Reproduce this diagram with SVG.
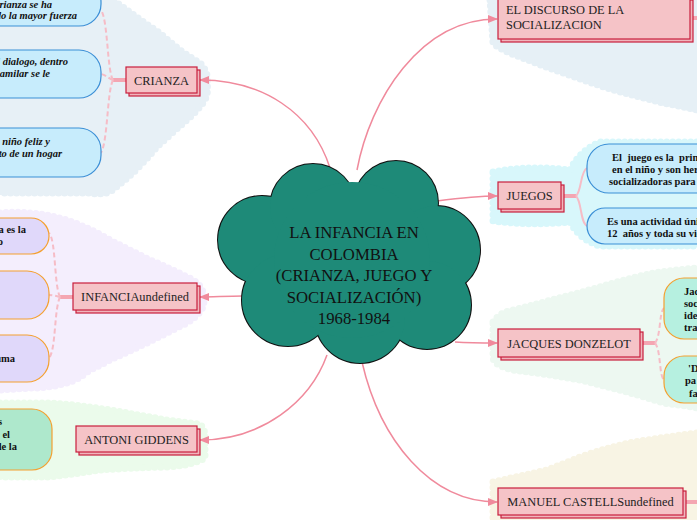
<svg xmlns="http://www.w3.org/2000/svg" width="697" height="520" viewBox="0 0 697 520">
<style>
.bg{stroke-width:7;stroke-linecap:round;stroke-dasharray:0 6}
.main rect.f{fill:#f5c3c7;stroke:#c81e3c;stroke-width:1.2}
.main rect.s{fill:#f0b5bc;stroke:#c81e3c;stroke-width:1.2}
.main text{font-family:"Liberation Serif",serif;font-size:12.4px;fill:#222}
.sub text{font-family:"Liberation Serif",serif;font-size:10.5px;font-weight:bold;fill:#111;white-space:pre}
.subi text{font-style:italic}
.blue{fill:#c7ecfc;stroke:#3b8fd6;stroke-width:1.2}
.lav{fill:#e0d8fa;stroke:#f4a030;stroke-width:1.2}
.mint{fill:#b6f0e0;stroke:#f4a030;stroke-width:1.2}
.grn{fill:#aee8cc;stroke:#f4a030;stroke-width:1.2}
.con{fill:none;stroke:#f08a9c;stroke-width:1.5}
.stub{fill:none;stroke:#f4a6b2;stroke-width:4}
.br{fill:none;stroke:#f6bcc6;stroke-width:2}
.dash{fill:none;stroke:#f6bcc6;stroke-width:2;stroke-dasharray:5 3}
</style>
<defs>
<marker id="arr" viewBox="0 0 10 10" refX="9" refY="5" markerWidth="7" markerHeight="7" orient="auto"><path d="M0,1 L10,5 L0,9 z" fill="#f08a9c"/></marker>
</defs>

<g id="backgrounds">
<path class="bg" fill="#e7f0f6" stroke="#e7f0f6" d="M0,0 L113,0 Q120,5 127,10 Q143,22 160,33 Q170,42 180,50 Q190,57 200,63 Q209,72 207,83 Q209,95 203,103 Q196,112 187,120 Q172,133 157,147 Q146,160 133,173 Q122,183 110,192 Q100,195 90,193 L0,193 Z"/>
<path class="bg" fill="#f4eefd" stroke="#f4eefd" d="M0,213 Q33,210 67,220 Q90,228 110,240 Q130,250 150,260 Q170,268 187,277 Q200,282 203,292 Q206,305 200,312 Q195,318 187,323 Q167,333 147,343 Q128,352 110,360 Q100,366 90,370 Q78,380 67,383 Q50,388 33,388 L0,390 Z"/>
<path class="bg" fill="#ebfbeb" stroke="#ebfbeb" d="M0,403 L50,403 Q80,405 110,410 Q140,415 167,420 Q190,423 200,424 Q206,430 205,440 L205,458 Q190,466 167,467 Q130,468 100,470 Q75,474 50,477 L0,477 Z"/>
<path class="bg" fill="#e6f0f6" stroke="#e6f0f6" d="M490,0 L697,0 L697,110 Q680,106 663,103 Q640,97 613,90 Q588,82 563,73 Q540,65 520,57 Q500,50 493,43 Z"/>
<path class="bg" fill="#d8f7fb" stroke="#d8f7fb" d="M493,172 Q530,165 570,170 Q580,150 600,142 L697,142 L697,246 L600,246 Q580,240 570,222 Q530,226 493,221 Z"/>
<path class="bg" fill="#edf8f1" stroke="#edf8f1" d="M493,322 Q500,312 513,310 Q540,303 563,297 Q590,290 613,283 Q635,277 653,273 Q675,270 697,268 L697,408 Q680,405 663,403 Q645,397 630,393 Q605,386 580,380 Q545,374 513,370 Q495,366 493,358 Z"/>
<path class="bg" fill="#f8f4e4" stroke="#f8f4e4" d="M493,482 Q520,476 547,470 Q565,463 580,457 Q597,451 613,447 Q630,442 647,440 Q672,436 697,433 L697,520 L493,520 Z"/>
</g>

<g id="connectors">
<path class="con" marker-end="url(#arr)" d="M330,168 C312,112 262,80 200,80"/>
<path class="con" marker-end="url(#arr)" d="M243,296 C226,296 214,297 200,297"/>
<path class="con" marker-end="url(#arr)" d="M327,355 C310,402 262,440 200,440"/>
<path class="con" marker-end="url(#arr)" d="M357,170 C370,100 420,19 497,19"/>
<path class="con" marker-end="url(#arr)" d="M437,201 C460,198 480,196 497,196"/>
<path class="con" marker-end="url(#arr)" d="M455,342 C470,343 484,343 497,343"/>
<path class="con" marker-end="url(#arr)" d="M362,362 C380,440 430,502 497,502"/>
<path class="stub" d="M126,80 L113,80"/>
<path class="dash" d="M113,80 C107,70 108,20 101,10"/>
<path class="dash" d="M113,80 C108,78 106,75 101,74"/>
<path class="dash" d="M113,80 C107,92 108,140 101,153"/>
<path class="stub" d="M73,297 L60,297"/>
<path class="dash" d="M60,297 C54,285 56,240 49,233"/>
<path class="dash" d="M60,297 C56,296 53,295 49,295"/>
<path class="dash" d="M60,297 C54,310 56,350 49,358"/>
<path class="stub" d="M561,196 L576,196"/>
<path class="br" d="M576,196 C582,190 580,172 587,168"/>
<path class="br" d="M576,196 C582,202 580,222 587,226"/>
<path class="stub" d="M640,343 L655,343"/>
<path class="dash" d="M655,343 C661,336 659,312 664,308"/>
<path class="dash" d="M655,343 C661,350 659,376 664,380"/>
<path class="stub" d="M690,18 L697,18"/>
<path class="stub" d="M683,502 L697,502"/>
</g>

<g id="center">
<g stroke="#111" stroke-width="2" fill="#1e8a78">
<circle cx="262" cy="240" r="44"/>
<circle cx="313" cy="207" r="43"/>
<circle cx="396" cy="203" r="42"/>
<circle cx="436" cy="250" r="44"/>
<circle cx="427" cy="305" r="44"/>
<circle cx="360" cy="318" r="45"/>
<circle cx="288" cy="300" r="46"/>
</g>
<g fill="#1e8a78">
<circle cx="262" cy="240" r="44"/>
<circle cx="313" cy="207" r="43"/>
<circle cx="396" cy="203" r="42"/>
<circle cx="436" cy="250" r="44"/>
<circle cx="427" cy="305" r="44"/>
<circle cx="360" cy="318" r="45"/>
<circle cx="288" cy="300" r="46"/>
<circle cx="352" cy="260" r="78"/>
</g>
<g font-family="Liberation Serif, serif" font-size="16.7" fill="#111" text-anchor="middle">
<text x="354" y="238">LA INFANCIA EN</text>
<text x="354" y="259.5">COLOMBIA</text>
<text x="354" y="281">(CRIANZA, JUEGO Y</text>
<text x="354" y="302.5">SOCIALIZACIÓN)</text>
<text x="354" y="324">1968-1984</text>
</g>
</g>

<g id="crianza" class="main">
<rect class="s" x="129" y="70" width="71" height="26"/>
<rect class="f" x="126" y="67" width="71" height="26"/>
<text x="161.5" y="84.5" text-anchor="middle">CRIANZA</text>
</g>
<g id="infancia" class="main">
<rect class="s" x="76" y="286" width="124" height="27"/>
<rect class="f" x="73" y="283" width="124" height="27"/>
<text x="135" y="301" text-anchor="middle">INFANCIAundefined</text>
</g>
<g id="giddens" class="main">
<rect class="s" x="79" y="429" width="121" height="26"/>
<rect class="f" x="76" y="426" width="121" height="26"/>
<text x="136.5" y="443.5" text-anchor="middle">ANTONI GIDDENS</text>
</g>
<g id="discurso" class="main">
<rect class="s" x="501" y="0" width="192" height="42"/>
<rect class="f" x="498" y="-3" width="192" height="42"/>
<text x="506" y="14">EL DISCURSO DE LA</text>
<text x="506" y="29">SOCIALIZACION</text>
</g>
<g id="juegos" class="main">
<rect class="s" x="501" y="185" width="63" height="27"/>
<rect class="f" x="498" y="182" width="63" height="27"/>
<text x="529.5" y="200" text-anchor="middle">JUEGOS</text>
</g>
<g id="donzelot" class="main">
<rect class="s" x="501" y="332" width="142" height="28"/>
<rect class="f" x="498" y="329" width="142" height="28"/>
<text x="569" y="347.5" text-anchor="middle">JACQUES DONZELOT</text>
</g>
<g id="castells" class="main">
<rect class="s" x="501" y="491" width="185" height="27"/>
<rect class="f" x="498" y="488" width="185" height="27"/>
<text x="590.5" y="506" text-anchor="middle">MANUEL CASTELLSundefined</text>
</g>

<g id="crianza-1" class="sub subi">
<rect class="blue" x="-60" y="-20" width="161" height="46" rx="22"/>
<text x="52" y="8" text-anchor="end">rianza se ha</text>
<text x="77" y="19" text-anchor="end">do la mayor fuerza</text>
</g>
<g id="crianza-2" class="sub subi">
<rect class="blue" x="-60" y="50" width="161" height="48" rx="22"/>
<text x="68" y="65" text-anchor="end">l dialogo, dentro</text>
<text x="50" y="77" text-anchor="end">amilar se le</text>
</g>
<g id="crianza-3" class="sub subi">
<rect class="blue" x="-60" y="128" width="161" height="49" rx="22"/>
<text x="50" y="145" text-anchor="end">o niño feliz y</text>
<text x="62" y="157" text-anchor="end">cto de un hogar</text>
</g>
<g id="infancia-1" class="sub">
<rect class="lav" x="-60" y="218" width="109" height="36" rx="18"/>
<text x="26" y="233" text-anchor="end">a es la</text>
<text x="3" y="245" text-anchor="end">o</text>
</g>
<g id="infancia-2" class="sub">
<rect class="lav" x="-60" y="271" width="109" height="48" rx="22"/>
</g>
<g id="infancia-3" class="sub">
<rect class="lav" x="-60" y="335" width="109" height="47" rx="22"/>
<text x="15" y="362" text-anchor="end">uma</text>
</g>
<g id="giddens-1" class="sub">
<rect class="grn" x="-60" y="409" width="112" height="61" rx="20"/>
<text x="2" y="425" text-anchor="end">s</text>
<text x="10" y="438" text-anchor="end">el</text>
<text x="17" y="450" text-anchor="end">de la</text>
</g>
<g id="juegos-1" class="sub">
<rect class="blue" x="587" y="144" width="160" height="49" rx="22"/>
<text x="612" y="161">El  juego es la  princ</text>
<text x="612" y="173">en el niño y son herr</text>
<text x="609" y="185">socializadoras para</text>
</g>
<g id="juegos-2" class="sub">
<rect class="blue" x="587" y="208" width="160" height="36" rx="18"/>
<text x="607" y="225">Es una actividad únic</text>
<text x="607" y="237">12  años y toda su vida</text>
</g>
<g id="donzelot-1" class="sub">
<rect class="mint" x="664" y="278" width="100" height="61" rx="20"/>
<text x="684" y="295">Jac</text>
<text x="684" y="307">soc</text>
<text x="684" y="319">ide</text>
<text x="684" y="331">tra</text>
</g>
<g id="donzelot-2" class="sub">
<rect class="mint" x="664" y="356" width="100" height="47" rx="20"/>
<text x="688" y="372">'D</text>
<text x="685" y="384">pa</text>
<text x="689" y="397">fa</text>
</g>
</svg>
